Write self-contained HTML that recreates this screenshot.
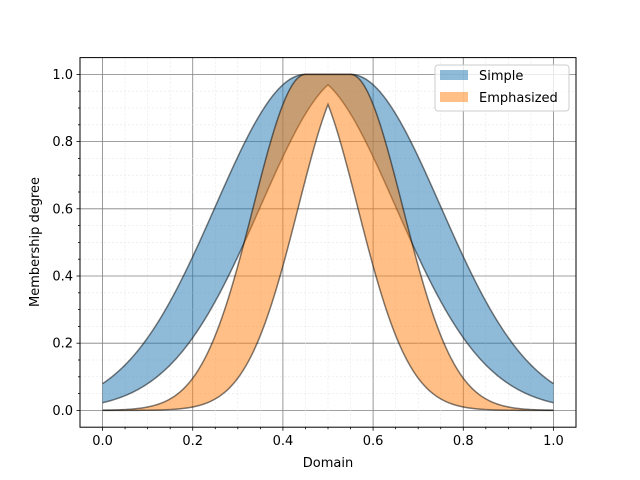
<!DOCTYPE html>
<html><head><meta charset="utf-8"><style>body{margin:0;background:#fff}svg{display:block;font-family:"DejaVu Sans","Liberation Sans",sans-serif}</style></head>
<body>
<svg id="s" width="640" height="480" xmlns="http://www.w3.org/2000/svg">
<rect width="640" height="480" fill="#fff"/>
<g id="grid"></g>
<g id="fills"></g>
<rect x="80" y="57.6" width="496" height="369.6" fill="none" stroke="#000" stroke-width="1"/>
<g id="ticks" font-size="13" fill="#000"></g>
<text x="328" y="467" font-size="13" text-anchor="middle">Domain</text>
<text transform="translate(39,242) rotate(-90)" font-size="13" text-anchor="middle">Membership degree</text>
<g>
<rect x="435" y="65" width="134" height="46" rx="3" fill="#fff" fill-opacity="0.8" stroke="#ccc"/>
<rect x="440" y="70" width="28" height="10" fill="#1f77b4" fill-opacity="0.5"/>
<rect x="440" y="92" width="28" height="10" fill="#ff7f0e" fill-opacity="0.5"/>
<text x="479" y="80" font-size="13">Simple</text>
<text x="479" y="102" font-size="13">Emphasized</text>
</g>
</svg>
<script>
const X=v=>80+496*(v+0.05)/1.1, Y=v=>427.2-369.6*(v+0.05)/1.1;
const ns="http://www.w3.org/2000/svg";
function el(p,t,a,txt){const e=document.createElementNS(ns,t);for(const k in a)e.setAttribute(k,a[k]);if(txt)e.textContent=txt;document.getElementById(p).appendChild(e);return e;}
for(let i=0;i<=20;i++){const v=i*0.05;const maj=i%4==0;
 const a=maj?{stroke:"#808080","stroke-width":0.8}:{stroke:"#e6e6e6","stroke-width":0.6,"stroke-dasharray":"2,2"};
 el("grid","line",Object.assign({x1:X(v),x2:X(v),y1:57.6,y2:427.2},a));
 el("grid","line",Object.assign({y1:Y(v),y2:Y(v),x1:80,x2:576},a));
 el("ticks","line",{x1:X(v),x2:X(v),y1:427.2,y2:427.2+(maj?3.5:2),stroke:"#000","stroke-width":0.8});
 el("ticks","line",{y1:Y(v),y2:Y(v),x1:80,x2:80-(maj?3.5:2),stroke:"#000","stroke-width":0.8});
 if(maj){el("ticks","text",{x:X(v),y:445,"text-anchor":"middle"},v.toFixed(1));
  el("ticks","text",{x:73,y:Y(v)+4.5,"text-anchor":"end"},v.toFixed(1));}
}
const up=x=>{const d=Math.max(Math.abs(x-0.5)-0.05,0);return Math.exp(-d*d/0.08)};
const lo=x=>{const d=Math.abs(x-0.5)+0.05;return Math.exp(-d*d/0.08)};
function band(fu,fl,col){const N=400;let a=[],b=[];
 for(let i=0;i<=N;i++){const x=i/N;a.push(X(x).toFixed(2)+","+Y(fu(x)).toFixed(2));b.push(X(x).toFixed(2)+","+Y(fl(x)).toFixed(2));}
 el("fills","path",{d:"M"+a.join("L")+"L"+b.reverse().join("L")+"Z",fill:col,"fill-opacity":0.5,stroke:"none"});
 el("fills","path",{d:"M"+a.join("L"),fill:"none",stroke:"#000","stroke-opacity":0.5,"stroke-width":1.5});
 el("fills","path",{d:"M"+b.join("L"),fill:"none",stroke:"#000","stroke-opacity":0.5,"stroke-width":1.5});}
band(up,lo,"#1f77b4");
band(x=>up(x)**3,x=>lo(x)**3,"#ff7f0e");
</script>
</body></html>
